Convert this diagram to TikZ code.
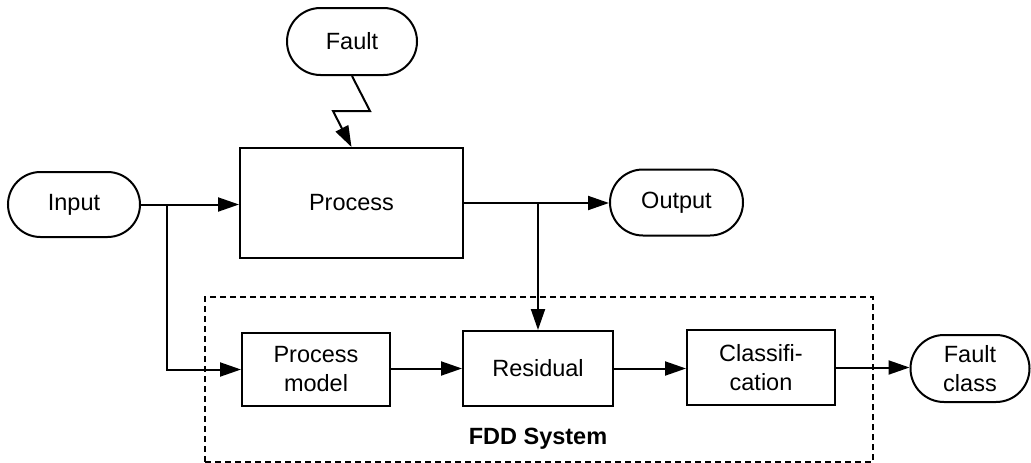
\documentclass[tikz,border=0pt]{standalone}
\usepackage{fontspec}
\setmainfont{Liberation Sans}
\usetikzlibrary{shapes.misc,arrows.meta}
\begin{document}
\begin{tikzpicture}[x=1pt,y=-1pt,
  every node/.style={inner sep=0pt,font={\fontsize{23.5}{29}\selectfont},align=center},
  term/.style={draw,line width=2pt,rounded rectangle},
  block/.style={draw,line width=2pt,rectangle},
  conn/.style={line width=2pt},
  arr/.style={conn,-{Triangle[length=21pt,width=14pt]}},
  frame/.style={draw,line width=1.6pt,dash pattern=on 6pt off 4pt}]
\useasboundingbox (0,0) rectangle (1031,463);

% system boundary
\node[frame,minimum width=668pt,minimum height=165pt] (fdd) at (539,379.5) {};
\node[font={\fontsize{23.5}{29}\selectfont\bfseries}] (fddlabel) at (538,439) {FDD System};

% terminals
\node[term,minimum width=130pt,minimum height=67pt] (fault) at (352,41.5) {Fault};
\node[term,minimum width=132pt,minimum height=65pt] (input) at (74,204.5) {Input};
\node[term,minimum width=133pt,minimum height=66pt] (output) at (676.5,202.5) {Output};
\node[term,minimum width=119pt,minimum height=67pt] (fclass) at (970,368.5) {Fault\\class};

% blocks
\node[block,minimum width=223pt,minimum height=110pt] (proc) at (351.5,203) {Process};
\node[block,minimum width=148pt,minimum height=73pt] (pm) at (316,369.5) {Process\\model};
\node[block,minimum width=150pt,minimum height=75pt] (res) at (538,368.5) {Residual};
\node[block,minimum width=148pt,minimum height=75pt] (cls) at (761,367.5) {Classifi-\\cation};

% branch points and the fault's zigzag
\coordinate (jin) at (167,204.5);
\coordinate (jout) at (538,203);
\coordinate (z1) at (370,111);
\coordinate (z2) at (333,111);

% connectors
\draw[arr] (fault.south) -- (z1) -- (z2) -- (proc.north);
\draw[arr] (input.east) -- (proc.west |- input.east);
\draw[arr] (jin) |- (pm.west);
\draw[arr] (proc.east |- jout) -- (output.west |- jout);
\draw[arr] (jout) -- (res.north);
\draw[arr] (pm.east |- res.west) -- (res.west);
\draw[arr] (res.east) -- (cls.west |- res.east);
\draw[arr] (cls.east) -- (fclass.west |- cls.east);
\end{tikzpicture}
\end{document}
